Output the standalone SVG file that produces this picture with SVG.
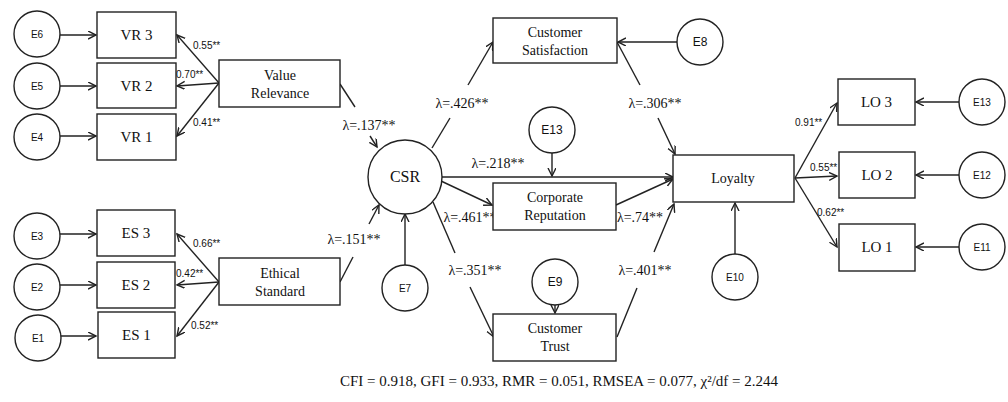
<svg xmlns="http://www.w3.org/2000/svg" width="1008" height="402" viewBox="0 0 1008 402">
<style>
.box{fill:#fff;stroke:#222;stroke-width:1.4}
.circ{fill:#fff;stroke:#222;stroke-width:1.4}
.ln{fill:none;stroke:#222;stroke-width:1.4}
.t{font-family:"Liberation Serif",serif;font-size:15px;fill:#111;text-anchor:middle}
.e{font-family:"Liberation Sans",sans-serif;font-size:10px;fill:#111;text-anchor:middle}
.lam{font-family:"Liberation Serif",serif;font-size:14px;fill:#111;text-anchor:middle}
.ld{font-family:"Liberation Sans",sans-serif;font-size:10px;fill:#111}
</style>
<defs>
<marker id="a" markerWidth="10" markerHeight="10" refX="8" refY="4" orient="auto" markerUnits="userSpaceOnUse">
<path d="M0,0 L8,4 L0,8" fill="none" stroke="#222" stroke-width="1.4"/>
</marker>
</defs>
<g id="connectors">
<line class="ln" x1="60" y1="35" x2="96" y2="35" marker-end="url(#a)"/>
<line class="ln" x1="60" y1="86" x2="96" y2="86" marker-end="url(#a)"/>
<line class="ln" x1="60" y1="136" x2="96" y2="136" marker-end="url(#a)"/>
<line class="ln" x1="60" y1="234" x2="96" y2="234" marker-end="url(#a)"/>
<line class="ln" x1="60" y1="285" x2="96" y2="285" marker-end="url(#a)"/>
<line class="ln" x1="60" y1="336" x2="96" y2="336" marker-end="url(#a)"/>
<line class="ln" x1="219" y1="83" x2="177" y2="35" marker-end="url(#a)"/>
<line class="ln" x1="219" y1="83" x2="177" y2="86" marker-end="url(#a)"/>
<line class="ln" x1="219" y1="83" x2="177" y2="136" marker-end="url(#a)"/>
<line class="ln" x1="219" y1="282" x2="177" y2="234" marker-end="url(#a)"/>
<line class="ln" x1="219" y1="282" x2="177" y2="285" marker-end="url(#a)"/>
<line class="ln" x1="219" y1="282" x2="177" y2="336" marker-end="url(#a)"/>
<line class="ln" x1="340" y1="84" x2="355" y2="107"/>
<line class="ln" x1="370" y1="136" x2="377" y2="147" marker-end="url(#a)"/>
<line class="ln" x1="340" y1="282" x2="353" y2="257"/>
<line class="ln" x1="369" y1="224" x2="379" y2="205" marker-end="url(#a)"/>
<line class="ln" x1="432" y1="148" x2="450" y2="118"/>
<line class="ln" x1="468" y1="85" x2="493" y2="42" marker-end="url(#a)"/>
<line class="ln" x1="617" y1="42" x2="640" y2="85"/>
<line class="ln" x1="658" y1="118" x2="675" y2="154" marker-end="url(#a)"/>
<line class="ln" x1="442" y1="177" x2="673" y2="177" marker-end="url(#a)"/>
<line class="ln" x1="552" y1="153" x2="552" y2="176" marker-end="url(#a)"/>
<line class="ln" x1="441" y1="181" x2="492" y2="205" marker-end="url(#a)"/>
<line class="ln" x1="616" y1="205" x2="673" y2="179" marker-end="url(#a)"/>
<line class="ln" x1="433" y1="202" x2="455" y2="253"/>
<line class="ln" x1="470" y1="287" x2="494" y2="337" marker-end="url(#a)"/>
<line class="ln" x1="617" y1="337" x2="637" y2="288"/>
<line class="ln" x1="654" y1="252" x2="674" y2="204" marker-end="url(#a)"/>
<line class="ln" x1="555" y1="305" x2="555" y2="313" marker-end="url(#a)"/>
<line class="ln" x1="405" y1="265" x2="405" y2="214" marker-end="url(#a)"/>
<line class="ln" x1="735" y1="254" x2="735" y2="203" marker-end="url(#a)"/>
<line class="ln" x1="677" y1="42" x2="618" y2="42" marker-end="url(#a)"/>
<line class="ln" x1="795" y1="178" x2="837" y2="103" marker-end="url(#a)"/>
<line class="ln" x1="795" y1="178" x2="837" y2="176" marker-end="url(#a)"/>
<line class="ln" x1="795" y1="178" x2="837" y2="247" marker-end="url(#a)"/>
<line class="ln" x1="959" y1="102" x2="916" y2="102" marker-end="url(#a)"/>
<line class="ln" x1="959" y1="175" x2="916" y2="175" marker-end="url(#a)"/>
<line class="ln" x1="959" y1="247" x2="916" y2="247" marker-end="url(#a)"/>
</g>
<g id="labels">
<text class="ld" x="193" y="49">0.55**</text>
<text class="ld" x="176" y="78">0.70**</text>
<text class="ld" x="193" y="126">0.41**</text>
<text class="ld" x="193" y="247">0.66**</text>
<text class="ld" x="176" y="277">0.42**</text>
<text class="ld" x="191" y="329">0.52**</text>
<text class="lam" x="369" y="130">λ=.137**</text>
<text class="lam" x="354" y="244">λ=.151**</text>
<text class="lam" x="462" y="108">λ=.426**</text>
<text class="lam" x="655" y="108">λ=.306**</text>
<text class="lam" x="498" y="168">λ=.218**</text>
<text class="lam" x="470" y="222">λ=.461**</text>
<text class="lam" x="640" y="222">λ=.74**</text>
<text class="lam" x="475" y="275">λ=.351**</text>
<text class="lam" x="645" y="275">λ=.401**</text>
<text class="ld" x="795" y="126">0.91**</text>
<text class="ld" x="810" y="171">0.55**</text>
<text class="ld" x="817" y="216">0.62**</text>
</g>
<g id="E6"><circle class="circ" cx="37" cy="34" r="23"/><text class="e" x="37" y="38">E6</text></g>
<g id="E5"><circle class="circ" cx="37" cy="86" r="23"/><text class="e" x="37" y="90">E5</text></g>
<g id="E4"><circle class="circ" cx="37" cy="137" r="23"/><text class="e" x="37" y="141">E4</text></g>
<g id="E3"><circle class="circ" cx="37" cy="236" r="23"/><text class="e" x="37" y="240">E3</text></g>
<g id="E2"><circle class="circ" cx="37" cy="287" r="23"/><text class="e" x="37" y="291">E2</text></g>
<g id="E1"><circle class="circ" cx="38" cy="338" r="23"/><text class="e" x="38" y="342">E1</text></g>
<g id="VR3"><rect class="box" x="97" y="12" width="79" height="46"/><text class="t" x="136.5" y="40">VR 3</text></g>
<g id="VR2"><rect class="box" x="97" y="63" width="79" height="45"/><text class="t" x="136.5" y="91">VR 2</text></g>
<g id="VR1"><rect class="box" x="97" y="114" width="79" height="46"/><text class="t" x="136.5" y="142">VR 1</text></g>
<g id="ES3"><rect class="box" x="97" y="210" width="78" height="46"/><text class="t" x="136" y="238">ES 3</text></g>
<g id="ES2"><rect class="box" x="97" y="262" width="78" height="46"/><text class="t" x="136" y="290">ES 2</text></g>
<g id="ES1"><rect class="box" x="98" y="312" width="77" height="46"/><text class="t" x="136.5" y="340">ES 1</text></g>
<g id="ValueRelevance"><rect class="box" x="219" y="60" width="121" height="47"/><text class="t" x="280" y="80" style="font-size:14px">Value</text><text class="t" x="280" y="98" style="font-size:14px">Relevance</text></g>
<g id="EthicalStandard"><rect class="box" x="219" y="258" width="121" height="47"/><text class="t" x="280" y="278" style="font-size:14px">Ethical</text><text class="t" x="280" y="296" style="font-size:14px">Standard</text></g>
<g id="CSR"><circle class="circ" cx="405" cy="177" r="37"/><text class="t" x="405" y="182" style="font-size:16px">CSR</text></g>
<g id="E7"><circle class="circ" cx="405" cy="288" r="23"/><text class="e" x="405" y="292">E7</text></g>
<g id="CustomerSatisfaction"><rect class="box" x="493" y="18" width="124" height="45"/><text class="t" x="555" y="37" style="font-size:14px">Customer</text><text class="t" x="555" y="55" style="font-size:14px">Satisfaction</text></g>
<g id="E8"><circle class="circ" cx="700" cy="42" r="23"/><text class="e" x="700" y="46" style="font-size:12px">E8</text></g>
<g id="E13a"><circle class="circ" cx="552" cy="130" r="23"/><text class="e" x="552" y="134" style="font-size:12px">E13</text></g>
<g id="CorporateReputation"><rect class="box" x="493" y="183" width="123" height="47"/><text class="t" x="555" y="202" style="font-size:14px">Corporate</text><text class="t" x="555" y="220" style="font-size:14px">Reputation</text></g>
<g id="E9"><circle class="circ" cx="555" cy="282" r="23"/><text class="e" x="555" y="286" style="font-size:12px">E9</text></g>
<g id="CustomerTrust"><rect class="box" x="493" y="314" width="123" height="47"/><text class="t" x="555" y="333" style="font-size:14px">Customer</text><text class="t" x="555" y="351" style="font-size:14px">Trust</text></g>
<g id="Loyalty"><rect class="box" x="673" y="155" width="121" height="47"/><text class="t" x="733" y="183" style="font-size:14px">Loyalty</text></g>
<g id="E10"><circle class="circ" cx="735" cy="277" r="23"/><text class="e" x="735" y="281">E10</text></g>
<g id="LO3"><rect class="box" x="838" y="79" width="77" height="46"/><text class="t" x="876.5" y="107">LO 3</text></g>
<g id="LO2"><rect class="box" x="839" y="152" width="76" height="46"/><text class="t" x="877" y="180">LO 2</text></g>
<g id="LO1"><rect class="box" x="839" y="224" width="76" height="47"/><text class="t" x="877" y="252">LO 1</text></g>
<g id="E13"><circle class="circ" cx="982" cy="102" r="23"/><text class="e" x="982" y="106">E13</text></g>
<g id="E12"><circle class="circ" cx="982" cy="175" r="23"/><text class="e" x="982" y="179">E12</text></g>
<g id="E11"><circle class="circ" cx="982" cy="247" r="23"/><text class="e" x="982" y="251">E11</text></g>
<text class="t" x="559" y="386" style="font-size:15px">CFI = 0.918, GFI = 0.933, RMR = 0.051, RMSEA = 0.077, χ²/df = 2.244</text>
</svg>
